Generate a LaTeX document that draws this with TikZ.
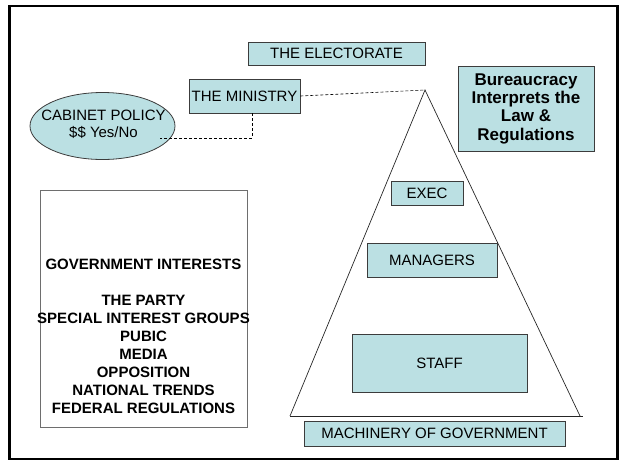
\documentclass[tikz,border=0pt]{standalone}
\usepackage{fontspec}
\setmainfont{Liberation Sans}
\usetikzlibrary{shapes.geometric,calc}
\definecolor{boxfill}{RGB}{187,224,227}
\definecolor{boxline}{RGB}{60,60,60}
\definecolor{govline}{RGB}{110,110,110}
\begin{document}
\begin{tikzpicture}[x=1pt,y=-1pt,
  blbox/.style={draw=boxline, fill=boxfill, line width=0.8pt, inner sep=0pt, align=center,
    font=\fontsize{15}{18}\selectfont},
  boldbox/.style={blbox, font=\bfseries\fontsize{17}{18.3}\selectfont},
  link/.style={line width=0.6pt, dash pattern=on 3pt off 2pt},
  thinline/.style={line width=0.7pt, draw=black!85}]
\useasboundingbox (0,0) rectangle (620,461);
\draw[line width=2.5pt] (9.5,6) rectangle (617.5,459);

% pyramid
\coordinate (apex) at (425,90);
\coordinate (bl) at (290,416);
\coordinate (br) at (580,416);
\coordinate (be) at (583,416);
\draw[thinline] (bl) -- (apex) -- (br);
\draw[thinline] (bl) -- (be);

% boxes
\node[blbox, minimum width=177, minimum height=23] (elect) at (336.5,53.5) {THE ELECTORATE};
\node[blbox, minimum width=111, minimum height=34] (min) at (244.5,96) {THE MINISTRY};
\node[boldbox, minimum width=136, minimum height=85] (bur) at (526,108.5)
  {Bureaucracy\\Interprets the\\Law \&\\Regulations};
\node[blbox, minimum width=72, minimum height=24] (exec) at (427,193) {EXEC};
\node[blbox, minimum width=130, minimum height=34] (mgr) at (432,260) {MANAGERS};
\node[blbox, minimum width=175, minimum height=58] (staff) at (439.5,363) {STAFF};
\node[blbox, minimum width=261, minimum height=25] (mach) at (434.5,433.5) {MACHINERY OF GOVERNMENT};

% cabinet policy
\node[ellipse, draw=boxline, fill=boxfill, line width=0.8pt, inner sep=0pt,
  minimum width=145, minimum height=67] (cab) at (102.5,126) {};
\node[align=center, inner sep=0pt, font=\fontsize{15}{17}\selectfont] (cabtxt) at (103.5,124.5)
  {CABINET POLICY\\\$\$ Yes/No};

% dashed connectors
\coordinate (mdrop) at ($(min.south)+(7.5,0)$);
\coordinate (cabend) at (160,138);
\draw[link] (min.east) -- (apex);
\draw[link] (mdrop) |- (cabend);

% government interests
\node[draw=govline, line width=0.6pt, inner sep=0pt, minimum width=207, minimum height=237] (gov) at (143.5,308.5) {};
\node[align=center, inner sep=0pt, font=\bfseries\fontsize{15}{18}\selectfont] (govtxt) at (143.5,336)
  {GOVERNMENT INTERESTS\\[18pt]THE PARTY\\SPECIAL INTEREST GROUPS\\PUBIC\\MEDIA\\OPPOSITION\\NATIONAL TRENDS\\FEDERAL REGULATIONS};
\end{tikzpicture}
\end{document}
